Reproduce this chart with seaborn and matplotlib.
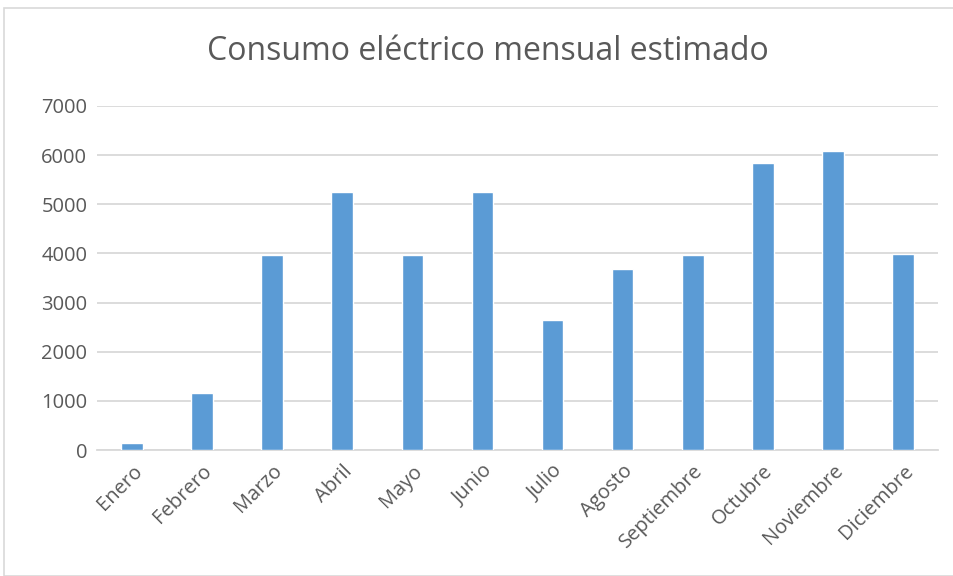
import matplotlib
matplotlib.use('Agg')
import matplotlib.pyplot as plt
import seaborn as sns
import pandas as pd
from matplotlib.patches import Rectangle

# Datos del gráfico
meses = ['Enero', 'Febrero', 'Marzo', 'Abril', 'Mayo', 'Junio', 'Julio',
         'Agosto', 'Septiembre', 'Octubre', 'Noviembre', 'Diciembre']
consumo = [142, 1150, 3960, 5260, 3960, 5260, 2640, 3690, 3960, 5830, 6090, 3995]
ticks_y = [0, 1000, 2000, 3000, 4000, 5000, 6000, 7000]

df = pd.DataFrame({'Mes': meses, 'Consumo': consumo})

sns.set_style('white')
plt.rcParams['font.family'] = ['Open Sans', 'DejaVu Sans']

Color_Texto = '#595959'
Color_Barra = '#5B9BD5'
Color_Grid = '#D9D9D9'

fig = plt.figure(figsize=(9.54, 5.76), dpi=100)
ax = fig.add_axes([97 / 954, 1 - 450 / 576, (938 - 97) / 954, (450 - 106) / 576])

sns.barplot(data=df, x='Mes', y='Consumo', color=Color_Barra, width=0.31,
            saturation=1, ax=ax, zorder=3)

ax.set_ylim(0, 7000)
ax.set_xlim(-0.5, 11.5)
ax.set_yticks(ticks_y)
ax.set_yticklabels([str(t) for t in ticks_y])
ax.yaxis.grid(True, color=Color_Grid, linewidth=1.3, zorder=0)
ax.set_axisbelow(True)
for lado in ['top', 'right', 'left']:
    ax.spines[lado].set_visible(False)
ax.spines['bottom'].set_color(Color_Grid)
ax.spines['bottom'].set_linewidth(1.3)
ax.tick_params(axis='both', length=0, colors=Color_Texto, labelsize=14.5)
ax.tick_params(axis='y', pad=7)
ax.tick_params(axis='x', pad=8)
plt.setp(ax.get_xticklabels(), rotation=45, ha='right', rotation_mode='anchor')
ax.set_xlabel('')
ax.set_ylabel('')

# Título
fig.text(0.511, 1 - 52 / 576, 'Consumo eléctrico mensual estimado', ha='center', va='center',
         fontsize=23, color=Color_Texto)

# Borde exterior del gráfico
fig.patches.append(Rectangle((4 / 954, 0), 1, 1 - 8 / 576, transform=fig.transFigure,
                             fill=False, edgecolor='#D9D9D9', linewidth=1.2))

fig.savefig('out.png', dpi=100)
